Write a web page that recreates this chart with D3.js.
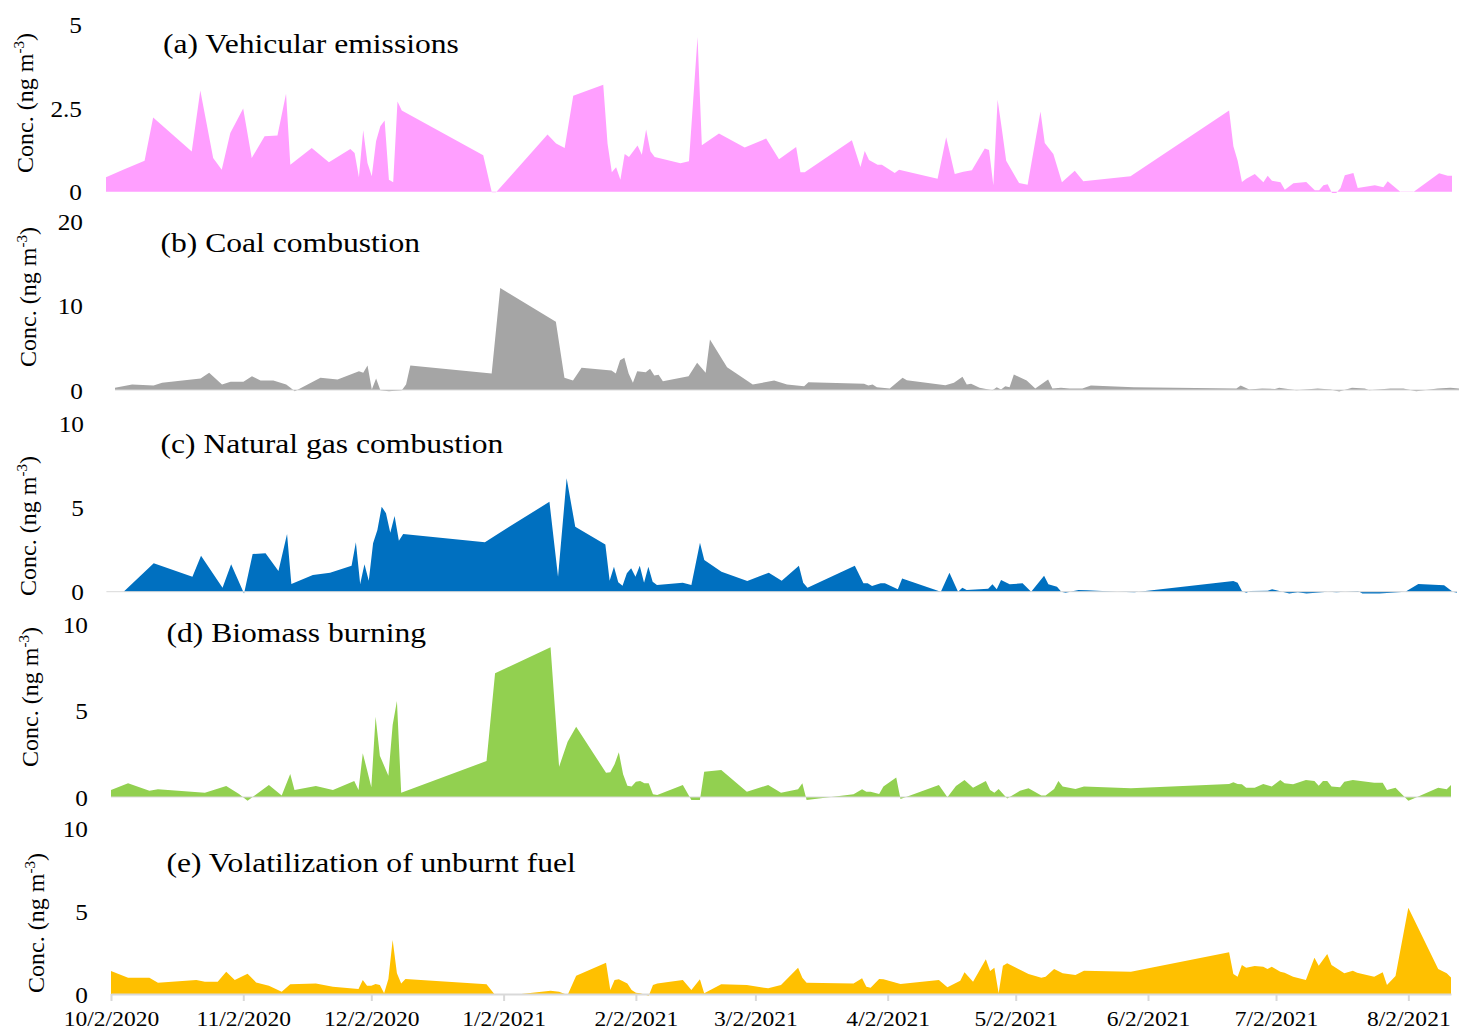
<!DOCTYPE html>
<html>
<head>
<meta charset="utf-8">
<script src="https://cdn.jsdelivr.net/npm/d3@7"></script>
<style>
  html, body { margin: 0; padding: 0; background: #fff; }
  svg { display: block; }
  text { font-family: "Liberation Serif", "Times New Roman", serif; fill: #000; }
</style>
</head>
<body>
<svg id="chart" width="1459" height="1036"></svg>
<script>
// Sampling period
const startDate = "2020-10-02";
const endDate = "2021-08-12";

// Month tick labels on the shared date axis
const tickLabels = ["10/2/2020", "11/2/2020", "12/2/2020", "1/2/2021", "2/2/2021",
  "3/2/2021", "4/2/2021", "5/2/2021", "6/2/2021", "7/2/2021", "8/2/2021"];

// Panel titles and y ticks
const titles = ["(a) Vehicular emissions", "(b) Coal combustion", "(c) Natural gas combustion",
  "(d) Biomass burning", "(e) Volatilization of unburnt fuel"];
const yMax = [5, 20, 10, 10, 10];
const yTicks = [[0, 2.5, 5], [0, 10, 20], [0, 5, 10], [0, 5, 10], [0, 5, 10]];

// Source contributions, ng m-3 (day = days since start of sampling)
const dayA = [0,4,9,11,20,22,25,27,29,32,34,37,40,42,43,48,52,57,58,59,60,61,62,63,64,65,66,67,68,69,88,90,91,103,105,107,109,116,117,118,119,120,121,122,124,125,126,127,128,134,136,138,139,143,149,154,157,161,162,163,174,176,177,178,180,181,184,185,194,196,198,200,202,205,206,207,208,209,210,213,215,218,219,221,223,226,228,239,262,263,264,265,266,268,270,271,272,274,275,277,280,282,283,284,285,286,287,288,289,291,292,296,298,299,302,305,311,313,314];
const vehicular = [0.43,0.66,0.93,2.22,1.2,3.03,1.01,0.66,1.76,2.49,1.01,1.66,1.68,2.93,0.81,1.31,0.88,1.28,1.16,0.43,1.84,0.86,0.46,1.51,1.96,2.13,0.36,0.28,2.7,2.43,1.09,-0.02,-0.02,1.71,1.44,1.31,2.87,3.2,1.44,0.58,0.73,0.36,1.13,1.04,1.38,1.11,1.86,1.21,1.04,0.85,0.91,4.63,1.39,1.74,1.32,1.59,0.97,1.34,0.58,0.58,1.54,0.74,1.22,0.95,0.81,0.81,0.56,0.66,0.39,1.63,0.53,0.6,0.64,1.29,1.25,0.19,2.75,1.86,0.93,0.26,0.21,2.4,1.46,1.13,0.28,0.63,0.31,0.46,2.43,1.36,0.93,0.29,0.39,0.53,0.28,0.48,0.33,0.28,0.06,0.25,0.29,0.04,0.04,0.19,0.22,-0.04,-0.04,0.11,0.49,0.56,0.11,0.19,0.13,0.31,-0.01,-0.01,0.55,0.48,0.48];

const dayB = [0,4,9,11,20,22,25,27,30,32,34,37,40,41,42,48,52,57,58,59,60,61,62,64,67,68,69,88,90,103,105,107,109,116,117,118,119,120,121,122,124,125,126,127,128,134,136,138,139,143,149,154,157,161,162,175,176,177,178,181,184,185,194,196,198,199,200,202,205,206,207,208,209,210,213,215,218,219,221,223,226,228,238,262,263,265,268,271,272,276,281,284,286,289,292,293,298,301,304,309,312,314];
const coal = [0.26,0.65,0.53,0.85,1.36,2.04,0.65,0.97,0.97,1.64,1.13,1.13,0.65,0.26,-0.14,1.45,1.25,2.23,2.04,2.9,0.06,1.36,-0.02,-0.14,-0.02,0.65,2.9,1.96,12.1,8.09,1.45,1.13,2.63,2.31,1.96,3.54,3.82,1.96,0.85,2.23,2.11,2.51,1.72,1.8,1.04,1.64,3.23,2.04,5.99,2.7,0.65,1.13,0.65,0.45,0.93,0.73,0.53,0.65,0.33,0.18,1.45,1.16,0.57,0.85,1.57,0.65,0.73,0.26,-0.02,0.33,0.06,0.45,0.33,1.84,1.13,0.18,1.25,0.18,0.26,0.18,0.18,0.53,0.33,0.18,0.53,0.06,0.18,0.12,0.26,-0.02,0.18,0.06,-0.18,0.26,0.18,-0.02,0.18,0.18,-0.14,0.18,0.26,0.18];

const dayC = [0,4,11,20,22,27,29,32,34,37,40,42,43,48,52,57,58,59,60,61,62,63,64,65,66,67,68,69,88,90,103,105,107,109,116,117,118,119,120,121,122,123,124,125,126,127,128,134,136,138,139,143,149,154,157,161,162,163,174,176,177,178,180,181,184,185,194,196,198,199,200,205,206,207,208,210,213,215,218,219,221,222,223,226,228,235,239,262,263,264,265,266,270,271,272,275,277,279,284,286,291,292,296,302,305,311,313,314];
const naturalGas = [0,0,1.69,0.89,2.14,0.24,1.63,-0.1,2.24,2.28,1.23,3.43,0.46,0.99,1.13,1.54,2.93,0.46,1.63,0.65,2.87,3.66,5.05,4.66,3.5,4.5,3.03,3.43,2.93,3.27,5.34,0.89,6.73,3.86,2.81,0.65,1.48,0.56,0.36,1.09,1.39,0.89,1.54,0.53,1.48,0.59,0.4,0.53,0.4,2.91,1.88,1.19,0.64,1.13,0.65,1.54,0.53,0.24,1.54,0.5,0.5,0.34,0.5,0.5,0.14,0.79,0,1.13,0,0.24,0.1,0.18,0.44,0.14,0.69,0.44,0.5,0,0.95,0.44,0.3,0,-0.06,0.1,0.08,0,-0.04,0.64,0.53,0.04,-0.06,0.04,0.06,0.14,0.08,-0.1,-0.04,-0.1,0,-0.04,0.04,-0.1,-0.1,0,0.46,0.38,0,-0.06];

const dayD = [0,4,9,11,22,27,30,32,37,40,42,43,48,52,57,58,59,60,61,62,63,65,66,67,68,88,90,103,105,107,109,116,117,118,119,120,121,122,123,124,125,126,127,128,134,136,138,139,143,149,154,157,161,162,163,174,176,177,178,180,181,184,185,194,196,198,200,202,205,206,207,208,210,213,215,218,219,221,222,223,226,228,239,262,263,264,265,266,268,270,272,274,275,277,280,282,283,284,285,286,288,289,291,296,298,299,301,304,305,311,313,314];
const biomass = [0.4,0.79,0.36,0.45,0.25,0.64,0.17,-0.21,0.69,0.08,1.33,0.4,0.64,0.4,0.92,0.4,2.53,1.56,0.56,4.64,2.39,1.23,4.16,5.55,0.25,2.08,7.15,8.65,1.75,3.2,4.06,1.4,1.43,1.89,2.58,1.31,0.65,0.6,0.88,0.92,0.79,0.79,0.16,0.12,0.69,-0.17,-0.17,1.46,1.56,0.31,0.69,0.25,0.45,0.79,-0.17,0.16,0.45,0.31,0.31,0.17,0.6,1.12,-0.12,0.69,-0.02,0.64,0.98,0.54,0.92,0.4,0.25,0.46,-0.08,0.36,0.5,0.08,0.08,0.46,0.92,0.6,0.46,0.6,0.5,0.75,0.85,0.75,0.73,0.54,0.54,0.75,0.6,0.98,0.79,0.73,0.98,0.92,0.65,0.92,0.92,0.6,0.56,0.88,0.98,0.83,0.83,0.4,0.54,-0.21,-0.12,0.54,0.45,0.69];

const dayE = [0,4,9,11,20,22,25,27,29,32,34,37,40,42,48,52,58,59,60,61,62,63,64,65,66,67,68,69,88,90,94,103,105,107,109,116,117,118,119,121,122,123,124,126,127,128,134,136,138,139,143,149,154,157,161,162,163,174,176,177,178,180,181,185,194,196,199,200,202,205,206,207,208,209,210,215,218,219,221,223,226,228,239,262,263,264,265,266,268,270,271,272,274,275,277,280,282,283,285,286,289,291,292,296,298,299,301,304,311,313,314];
const unburntFuel = [1.39,0.98,0.98,0.68,0.84,0.74,0.74,1.34,0.84,1.22,0.7,0.5,0.14,0.58,0.64,0.44,0.3,0.84,0.5,0.5,0.6,0.54,0.04,0.9,3.25,1.25,0.64,0.9,0.58,-0.06,-0.06,0.2,0.14,-0.06,1.1,1.89,0.24,0.84,0.89,0.64,0.24,0.08,0.04,-0.1,0.54,0.64,0.84,0.24,0.89,0.04,0.58,0.54,0.34,0.54,1.58,0.98,0.68,0.64,0.95,0.44,0.38,0.9,0.89,0.6,0.84,0.4,0.8,1.31,0.74,2.09,1.39,1.58,0.04,1.7,1.85,1.2,0.98,1.04,1.51,1.25,1.14,1.4,1.34,2.51,1.2,1.04,1.75,1.58,1.69,1.64,1.51,1.64,1.34,1.28,1.04,0.84,2.19,1.7,2.41,1.75,1.25,1.4,1.28,1.04,1.31,0.54,1.08,5.2,1.51,1.25,1.0];

// Drawing setup for each panel: plot extents, fill colour and text placement
const panelStyle = [
  { left: 106, right: 1452, zero: 191.7, top: 24.7, fill: "#FF9FFF", zeroLine: false,
    tickRight: 82, titleX: 163, titleY: 53, yTitleX: 33, yTitleY: 103 },
  { left: 115, right: 1459, zero: 390, top: 221.4, fill: "#A5A5A5", zeroLine: true,
    tickRight: 83, titleX: 160.5, titleY: 251.5, yTitleX: 36, yTitleY: 297 },
  { left: 106.4, right: 1457, zero: 591.7, top: 423.3, fill: "#0070C0", zeroLine: true,
    tickRight: 84, titleX: 160.5, titleY: 453, yTitleX: 36, yTitleY: 526 },
  { left: 111, right: 1451, zero: 797, top: 624, fill: "#92D050", zeroLine: true,
    tickRight: 88, titleX: 166.5, titleY: 642, yTitleX: 38, yTitleY: 697 },
  { left: 111, right: 1451, zero: 994, top: 828, fill: "#FFC000", zeroLine: false,
    tickRight: 88, titleX: 166.5, titleY: 871.5, yTitleX: 44, yTitleY: 923 }
];

const seriesDays = [dayA, dayB, dayC, dayD, dayE];
const seriesVals = [vehicular, coal, naturalGas, biomass, unburntFuel];

const parseIso = d3.timeParse("%Y-%m-%d");
const parseTick = d3.timeParse("%m/%d/%Y");
const t0 = parseIso(startDate);
const t1 = parseIso(endDate);
const tickDates = tickLabels.map(parseTick);
const fmtTick = d => `${d.getMonth() + 1}/${d.getDate()}/${d.getFullYear()}`;

const svg = d3.select("#chart");

seriesVals.forEach((vals, i) => {
  const st = panelStyle[i];
  const data = vals.map((v, j) => ({ date: d3.timeDay.offset(t0, seriesDays[i][j]), v }));

  const x = d3.scaleTime().domain([t0, t1]).range([st.left, st.right]);
  const y = d3.scaleLinear().domain([0, yMax[i]]).range([st.zero, st.top]);

  const g = svg.append("g");

  const area = d3.area()
    .x(d => x(d.date))
    .y0(y(0))
    .y1(d => y(d.v));

  g.append("path")
    .datum(data)
    .attr("d", area)
    .attr("fill", st.fill);

  if (st.zeroLine) {
    g.append("line")
      .attr("x1", st.left).attr("x2", st.right)
      .attr("y1", y(0)).attr("y2", y(0))
      .attr("stroke", "#D9D9D9").attr("stroke-width", 1);
  }

  // Value axis: labels only
  const yAxis = g.append("g")
    .attr("transform", `translate(${st.tickRight},0)`)
    .call(d3.axisLeft(y).tickValues(yTicks[i]).tickSize(0).tickPadding(0)
      .tickFormat(d => String(d)));
  yAxis.select(".domain").remove();
  yAxis.selectAll("text")
    .attr("font-family", "Liberation Serif, Times New Roman, serif")
    .attr("font-size", 23)
    .attr("dy", "0.36em")
    .attr("transform", "scale(1.1,1)");

  // Axis title
  const yt = g.append("text")
    .attr("transform", `translate(${st.yTitleX},${st.yTitleY}) rotate(-90)`)
    .attr("text-anchor", "middle")
    .attr("font-size", 24);
  yt.append("tspan").text("Conc. (ng m");
  yt.append("tspan").attr("font-size", 15).attr("dy", -9).text("-3");
  yt.append("tspan").attr("dy", 9).text(")");

  // Panel title
  g.append("text")
    .attr("transform", `translate(${st.titleX},${st.titleY}) scale(1.17,1)`)
    .attr("font-size", 27)
    .text(titles[i]);

  // Date axis under the last panel
  if (i === seriesVals.length - 1) {
    const xAxis = g.append("g")
      .attr("transform", `translate(0,${y(0)})`)
      .call(d3.axisBottom(x).tickValues(tickDates).tickFormat(fmtTick)
        .tickSizeOuter(0).tickSizeInner(7).tickPadding(9));
    xAxis.select(".domain").attr("stroke", "#D9D9D9").attr("stroke-width", 2);
    xAxis.selectAll(".tick line").attr("stroke", "#D9D9D9").attr("stroke-width", 2);
    xAxis.selectAll("text")
      .attr("font-family", "Liberation Serif, Times New Roman, serif")
      .attr("font-size", 22)
      .attr("fill", "#000")
      .attr("transform", "scale(1.07,1)");
  }
});
</script>
</body>
</html>
